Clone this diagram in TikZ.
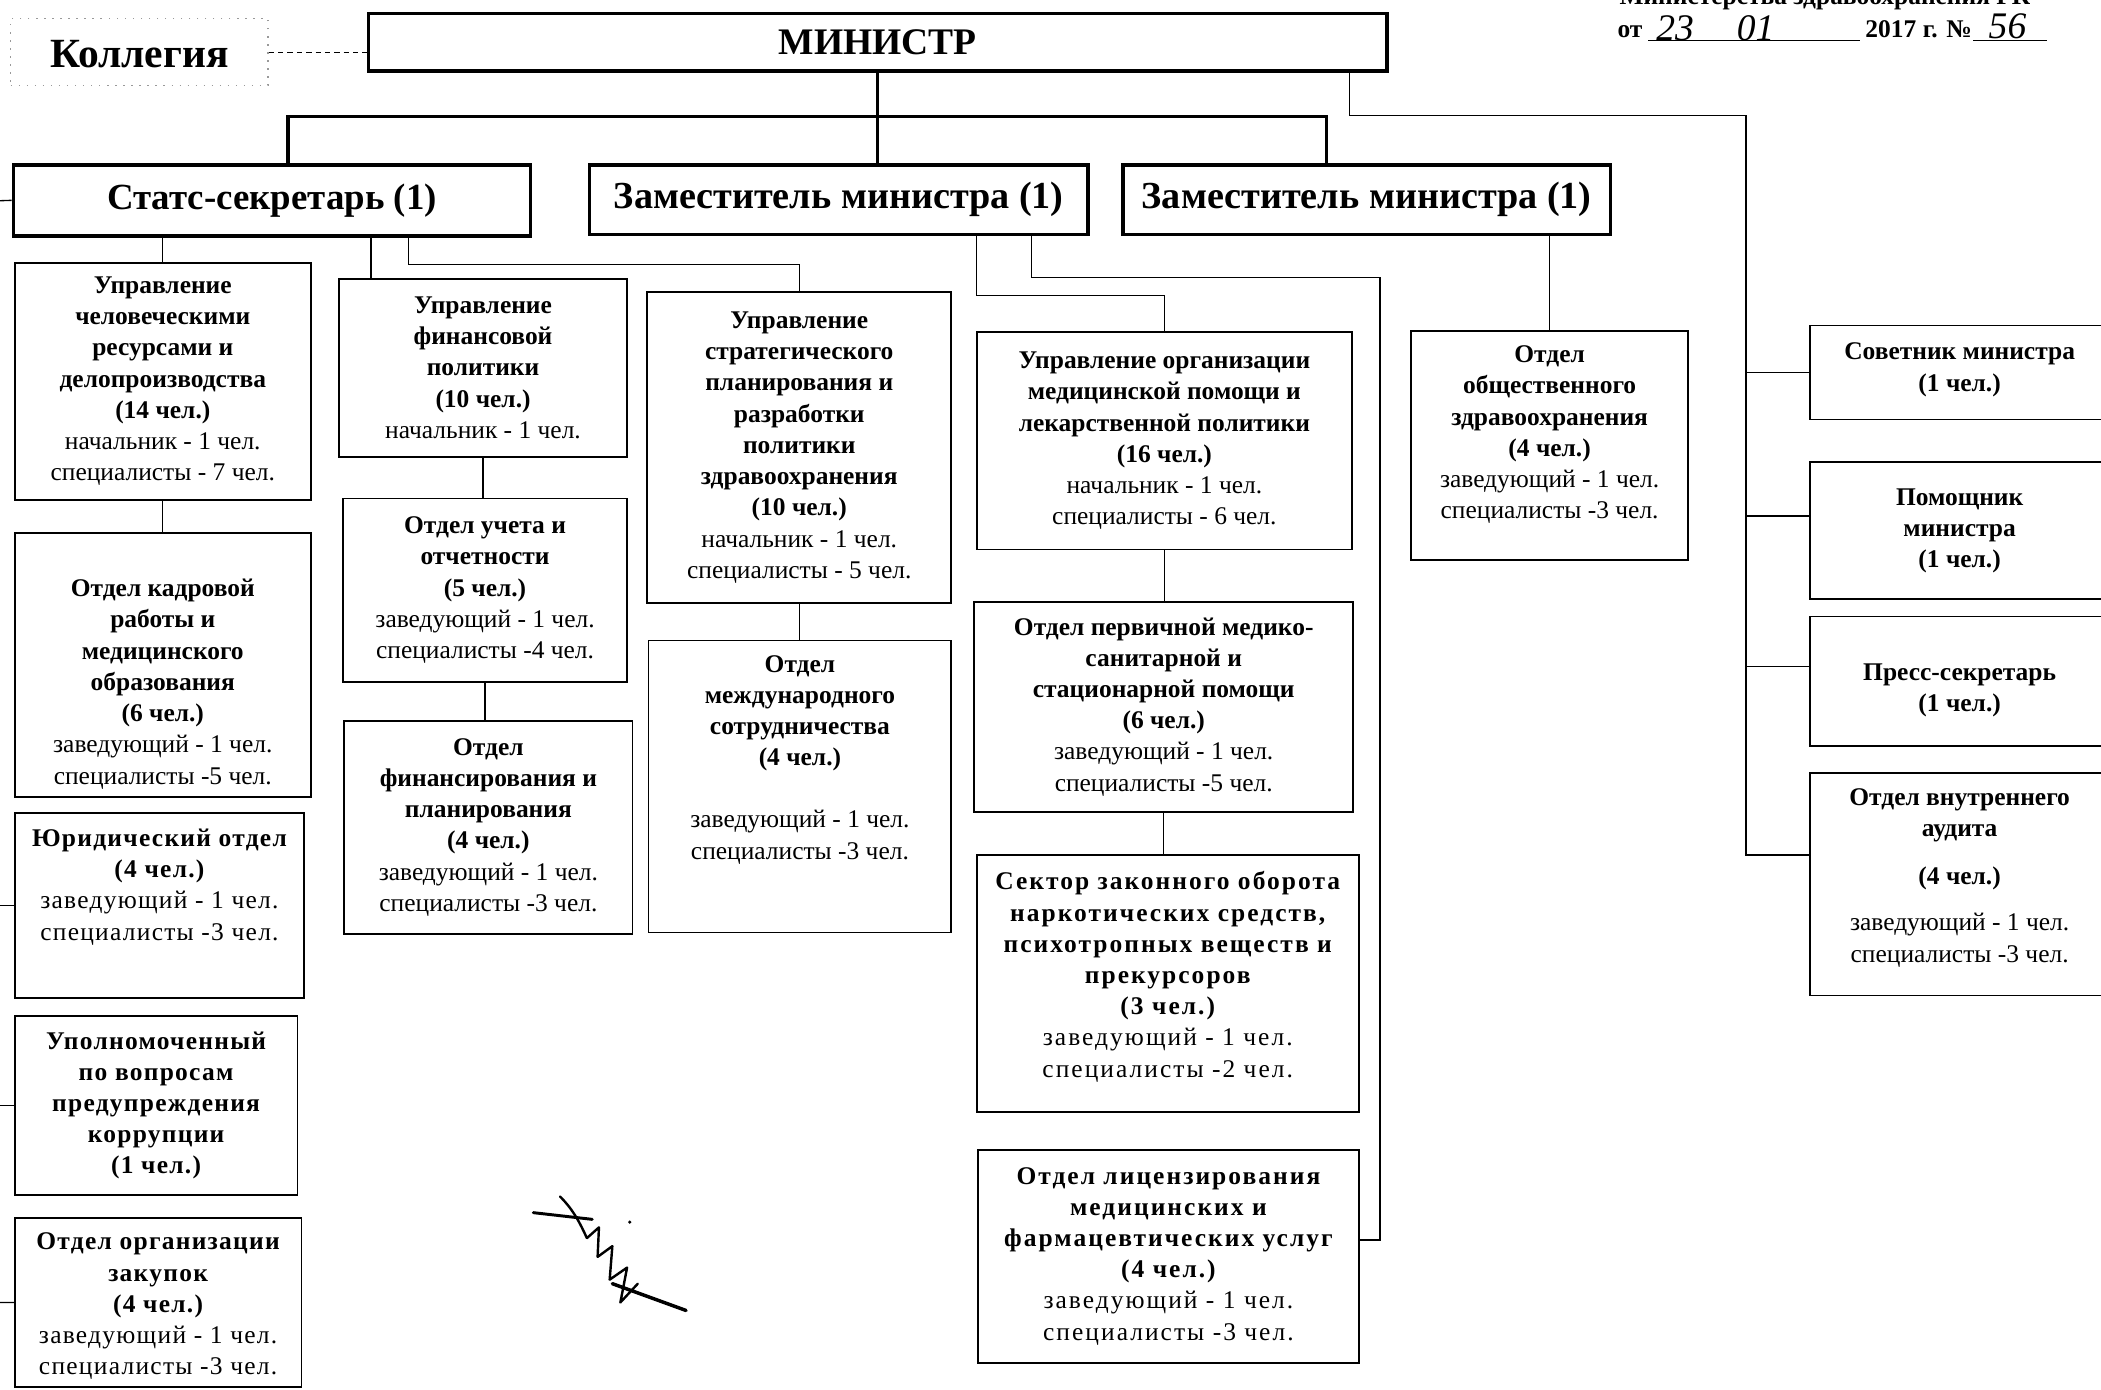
\documentclass[tikz,border=0pt]{standalone}
\usepackage{fontspec}
\setmainfont{Liberation Serif}
\newfontfamily\spc[LetterSpace=8]{Liberation Serif}
\newfontfamily\spcs[LetterSpace=5]{Liberation Serif}
\usetikzlibrary{fit,calc}

\tikzset{
  frame/.style={draw, line width=1.3pt, inner sep=0pt},
  bigframe/.style={draw, line width=2.6pt, inner sep=0pt},
  txt/.style={align=center, inner sep=0pt, font=\fontsize{19}{23.3}\selectfont\bfseries},
  spaced/.style={font=\fontsize{19}{23.3}\selectfont\spc\bfseries},
  lspaced/.style={font=\fontsize{19}{23.3}\selectfont\spcs\bfseries},
  bigtxt/.style={inner sep=0pt, font=\fontsize{27.5}{30}\selectfont\bfseries},
  conn/.style={line width=1pt},
  mainconn/.style={line width=2.6pt},
  hand/.style={inner sep=0pt, anchor=base west, font=\fontsize{28}{30}\selectfont\itshape},
  hdr/.style={inner sep=0pt, font=\fontsize{19}{22}\selectfont\bfseries},
  sig/.style={line width=1.8pt, line cap=round, line join=round},
}
\newcommand\rg{\mdseries}
\newcommand\orgbox[8][]{%
  \node[frame, fit={(#3,-#4) (#5,-#6)}] (#2) {};
  \node[txt, #1] (#2t) at ([yshift=#7pt]#2.center) {#8};}
\newcommand\mainbox[7][]{%
  \node[bigframe, fit={(#3,-#4) (#5,-#6)}] (#2) {};
  \node[bigtxt, #1] (#2t) at (#2.center) {#7};}

\begin{document}
\begin{tikzpicture}[x=1pt,y=1pt]
\useasboundingbox (0,0) rectangle (1568,-1037);

% ---------- header ----------
\node[hdr, anchor=base] (h1) at (1362,-3) {Министерства здравоохранения РК};
\node[hdr, anchor=base west] (h2) at (1207,-28) {от};
\node[hand] (h3) at (1236,-30) {23};
\node[hand] (h4) at (1296,-30) {01};
\node[hdr, anchor=base west] (h5) at (1392,-28) {2017 г. №};
\node[hand] (h6) at (1484,-29) {56};
\draw[conn] (h2.base east) ++(4,-2) coordinate (u1) -- (1388,-30) coordinate (u2);
\draw[conn] (h5.base east) ++(1,-2) coordinate (u3) -- (1528,-30) coordinate (u4);

% ---------- top level ----------
\mainbox[font=\fontsize{28}{30}\selectfont\bfseries]{min}{275}{10}{1035}{53}{МИНИСТР}
\mainbox{stats}{10}{123}{396}{176}{Статс-секретарь (1)}
\mainbox[font=\fontsize{28.5}{30}\selectfont\bfseries]{z1}{440}{123}{812}{175}{Заместитель министра (1)}
\mainbox[font=\fontsize{28.5}{30}\selectfont\bfseries]{z2}{838}{123}{1202}{175}{Заместитель министра (1)}

\node[draw=black!40, dash pattern=on 1pt off 5pt, line width=1pt, inner sep=0pt,
      fit={(8,-14) (200,-64)}] (kolf) {};
\node[inner sep=0pt, font=\fontsize{31}{33}\selectfont\bfseries] (kol) at ([yshift=-1pt]kolf.center) {Коллегия};

% ---------- column A ----------
\orgbox{a1}{11}{196}{232}{373}{0}{Управление\\человеческими\\ресурсами и\\делопроизводства\\(14 чел.)\\ \rg начальник - 1 чел.\\ \rg специалисты - 7 чел.}
\orgbox{a2}{11}{398}{232}{595}{-14}{Отдел кадровой\\работы и\\медицинского\\образования\\(6 чел.)\\ \rg заведующий - 1 чел.\\ \rg специалисты -5 чел.}
\orgbox[lspaced]{a3}{11}{607}{227}{745}{14}{Юридический отдел\\(4 чел.)\\ \rg заведующий - 1 чел.\\ \rg специалисты -3 чел.}
\orgbox[lspaced]{a4}{11}{758}{222}{892}{0}{Уполномоченный\\по вопросам\\предупреждения\\коррупции\\(1 чел.)}
\orgbox[lspaced]{a5}{11}{909}{225}{1035}{-3}{Отдел организации\\закупок\\(4 чел.)\\ \rg заведующий - 1 чел.\\ \rg специалисты -3 чел.}

% ---------- column B ----------
\orgbox{b1}{253}{208}{468}{341}{0}{Управление\\финансовой\\политики\\(10 чел.)\\ \rg начальник - 1 чел.}
\orgbox{b2}{256}{372}{468}{509}{0}{Отдел учета и\\отчетности\\(5 чел.)\\ \rg заведующий - 1 чел.\\ \rg специалисты -4 чел.}
\orgbox{b3}{257}{538}{472}{697}{0}{Отдел\\финансирования и\\планирования\\(4 чел.)\\ \rg заведующий - 1 чел.\\ \rg специалисты -3 чел.}

% ---------- column C ----------
\orgbox{c1}{483}{218}{710}{450}{0}{Управление\\стратегического\\планирования и\\разработки\\политики\\здравоохранения\\(10 чел.)\\ \rg начальник - 1 чел.\\ \rg специалисты - 5 чел.}
\orgbox{c2}{484}{478}{710}{696}{20}{Отдел\\международного\\сотрудничества\\(4 чел.)\\[23pt] \rg заведующий - 1 чел.\\ \rg специалисты -3 чел.}

% ---------- column D ----------
\orgbox{d1}{729}{248}{1009}{410}{0}{Управление организации\\медицинской помощи и\\лекарственной политики\\(16 чел.)\\ \rg начальник - 1 чел.\\ \rg специалисты - 6 чел.}
\orgbox{d2}{727}{449}{1010}{606}{0}{Отдел первичной медико-\\санитарной и\\стационарной помощи\\(6 чел.)\\ \rg заведующий - 1 чел.\\ \rg специалисты -5 чел.}
\orgbox[spaced]{d3}{729}{638}{1014}{830}{5}{Сектор законного оборота\\наркотических средств,\\психотропных веществ и\\прекурсоров\\(3 чел.)\\ \rg заведующий - 1 чел.\\ \rg специалисты -2 чел.}
\orgbox[spaced]{d4}{730}{858}{1014}{1017}{0}{Отдел лицензирования\\медицинских и\\фармацевтических услуг\\(4 чел.)\\ \rg заведующий - 1 чел.\\ \rg специалисты -3 чел.}

% ---------- column E ----------
\orgbox{e1}{1053}{247}{1260}{418}{8}{Отдел\\общественного\\здравоохранения\\(4 чел.)\\ \rg заведующий - 1 чел.\\ \rg специалисты -3 чел.}

% ---------- right column ----------
\orgbox{r1}{1351}{243}{1574}{313}{2}{Советник министра\\(1 чел.)}
\orgbox{r2}{1351}{345}{1574}{447}{0}{Помощник\\министра\\(1 чел.)}
\orgbox{r3}{1351}{460}{1574}{557}{-7}{Пресс-секретарь\\(1 чел.)}
\orgbox{r4}{1351}{577}{1574}{743}{5}{Отдел внутреннего\\аудита\\[13pt](4 чел.)\\[11pt] \rg заведующий - 1 чел.\\ \rg специалисты -3 чел.}

% ---------- connectors: top ----------
\draw[line width=1pt, dash pattern=on 4pt off 3pt] (kolf.east) -- (kolf.east -| min.west);
\coordinate (bar) at (0,-87);
\coordinate (sTop) at ([xshift=12pt]stats.north);
\coordinate (zTop) at ([xshift=-30pt]z2.north);
\draw[mainconn] (min.south) -- (min.south |- z1.north);
\draw[mainconn] (sTop) -- (sTop |- bar) -- (zTop |- bar) -- (zTop);

% right spine
\coordinate (mR) at ([xshift=352pt]min.south);
\coordinate (spine) at (1303,-86);
\coordinate (r2a) at ([yshift=11pt]r2.west);
\coordinate (r3a) at ([yshift=11pt]r3.west);
\coordinate (r4a) at ([yshift=22pt]r4.west);
\draw[conn] (mR) |- (spine) |- (r4a);
\draw[conn] (r1.west) -- (r1.west -| spine);
\draw[conn] (r2a) -- (r2a -| spine);
\draw[conn] (r3a) -- (r3a -| spine);

% left spine (outside the page)
\coordinate (lsp) at (-6,-150);
\draw[conn] (stats.west) -- (lsp) |- (a5.west);
\draw[conn] (a3.west) -- (a3.west -| lsp);
\draw[conn] (a4.west) -- (a4.west -| lsp);

% Stats-secretary branches
\draw[conn] (a1.north |- stats.south) -- (a1.north);
\draw[conn] (a1.south) -- (a1.south |- a2.north);
\coordinate (sB) at ([xshift=74pt]stats.south);
\draw[conn] (sB) -- (sB |- b1.north);
\draw[conn] (b1.south) -- (b1.south |- b2.north);
\draw[conn] (b2.south) -- (b2.south |- b3.north);
\coordinate (sC) at ([xshift=102pt]stats.south);
\draw[conn] (sC) -- ++(0,-20) -| (c1.north);
\draw[conn] (c1.south) -- (c1.south |- c2.north);

% Deputy 1 branches
\coordinate (zL) at ([xshift=103pt]z1.south);
\draw[conn] (zL) -- ++(0,-44) -| (d1.north);
\draw[conn] (d1.south) -- (d1.south |- d2.north);
\draw[conn] (d2.south) -- (d2.south |- d3.north);
\coordinate (zR) at ([xshift=144pt]z1.south);
\coordinate (dR) at (1030,-207);
\draw[conn] (zR) |- (dR) |- ([yshift=12pt]d4.east);

% Deputy 2 branch
\draw[conn] (e1.north |- z2.south) -- (e1.north);

% ---------- signature ----------
\draw[sig, line width=2.2pt] (398,-905) -- (442,-910);
\draw[sig] (418,-893) .. controls (428,-903) and (433,-913) .. (438,-924);
\draw[sig] (438,-924) -- (447,-916) -- (446,-938) -- (457,-930) -- (455,-955) -- (468,-946) -- (463,-972) -- (476,-958);
\draw[sig, line width=2.6pt] (457,-958) -- (512,-978);
\fill (470,-912) circle (1.3);
\end{tikzpicture}
\end{document}
